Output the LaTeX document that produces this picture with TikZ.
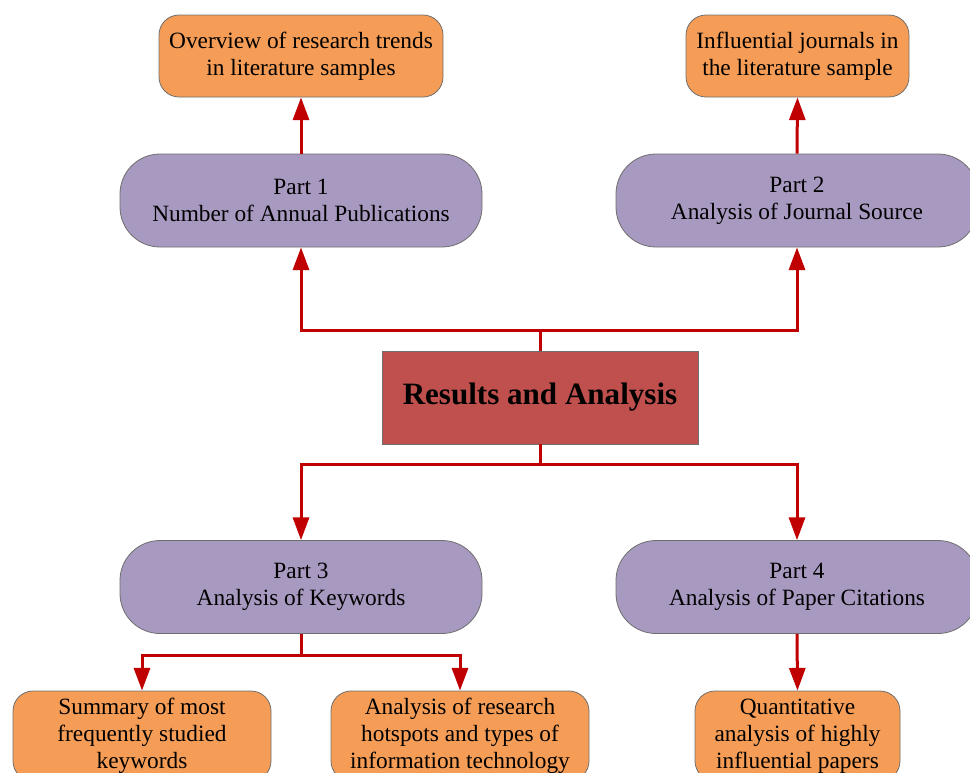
\documentclass[tikz,border=0pt]{standalone}
\usepackage{fontspec}
\setmainfont{Liberation Serif}
\usetikzlibrary{arrows.meta}
\definecolor{orng}{HTML}{F59D56}
\definecolor{purp}{HTML}{A899C0}
\definecolor{rbox}{HTML}{C0504D}
\definecolor{arr}{HTML}{C00000}
\definecolor{edge}{HTML}{6F6F6F}
\begin{document}
\begin{tikzpicture}[x=0.75pt,y=-0.75pt,
 base/.style={draw=edge, line width=0.6pt, align=center, inner sep=0pt, font=\fontsize{17.5}{20.25}\selectfont},
 orangebox/.style={base, fill=orng, rounded corners=15pt, minimum height=61.5pt},
 partbox/.style={base, fill=purp, rounded corners=30pt, minimum width=271.5pt, minimum height=69.75pt},
 mainbox/.style={base, fill=rbox, minimum width=237pt, minimum height=69.75pt, font=\fontsize{23.3}{26}\selectfont\bfseries},
 link/.style={draw=arr, line width=2.25pt},
 arrow/.style={link, -{Triangle[width=12pt,length=17pt]}}
]
\useasboundingbox (0,0) rectangle (970,772);
\clip (0,0) rectangle (970,772);
\node[orangebox, minimum width=213pt] (o1) at (301,56) {Overview of research trends\\in literature samples};
\node[orangebox, minimum width=167.25pt] (o2) at (797.5,56) {Influential journals in\\the literature sample};
\node[partbox] (p1) at (301,200.5) {Part 1\\Number of Annual Publications};
\node[partbox] (p2) at (797,200.5) {Part 2\\Analysis of Journal Source};
\node[mainbox] (m) at (540,397.5) {Results and Analysis};
\node[partbox] (p3) at (301,587) {Part 3\\Analysis of Keywords};
\node[partbox] (p4) at (797,587) {Part 4\\Analysis of Paper Citations};
\node[orangebox, minimum width=193.5pt, minimum height=67.5pt] (b1) at (142,736) {Summary of most\\frequently studied\\keywords};
\node[orangebox, minimum width=193.5pt, minimum height=67.5pt] (b2) at (460,736) {Analysis of research\\hotspots and types of\\information technology};
\node[orangebox, minimum width=153.75pt, minimum height=67.5pt] (b3) at (797.5,736) {Quantitative\\analysis of highly\\influential papers};
\coordinate (j1) at (540,330);
\coordinate (j2) at (540,464);
\coordinate (j3) at (301,655);
\draw[link] (m.north) -- (j1);
\draw[arrow] (j1) -| (p1.south);
\draw[arrow] (j1) -| (p2.south);
\draw[link] (m.south) -- (j2);
\draw[arrow] (j2) -| (p3.north);
\draw[arrow] (j2) -| (p4.north);
\draw[arrow] (p1.north) -- (o1.south);
\draw[arrow] (p2.north) -- (o2.south);
\draw[link] (p3.south) -- (j3);
\draw[arrow] (j3) -| (b1.north);
\draw[arrow] (j3) -| (b2.north);
\draw[arrow] (p4.south) -- (b3.north);
\end{tikzpicture}
\end{document}
